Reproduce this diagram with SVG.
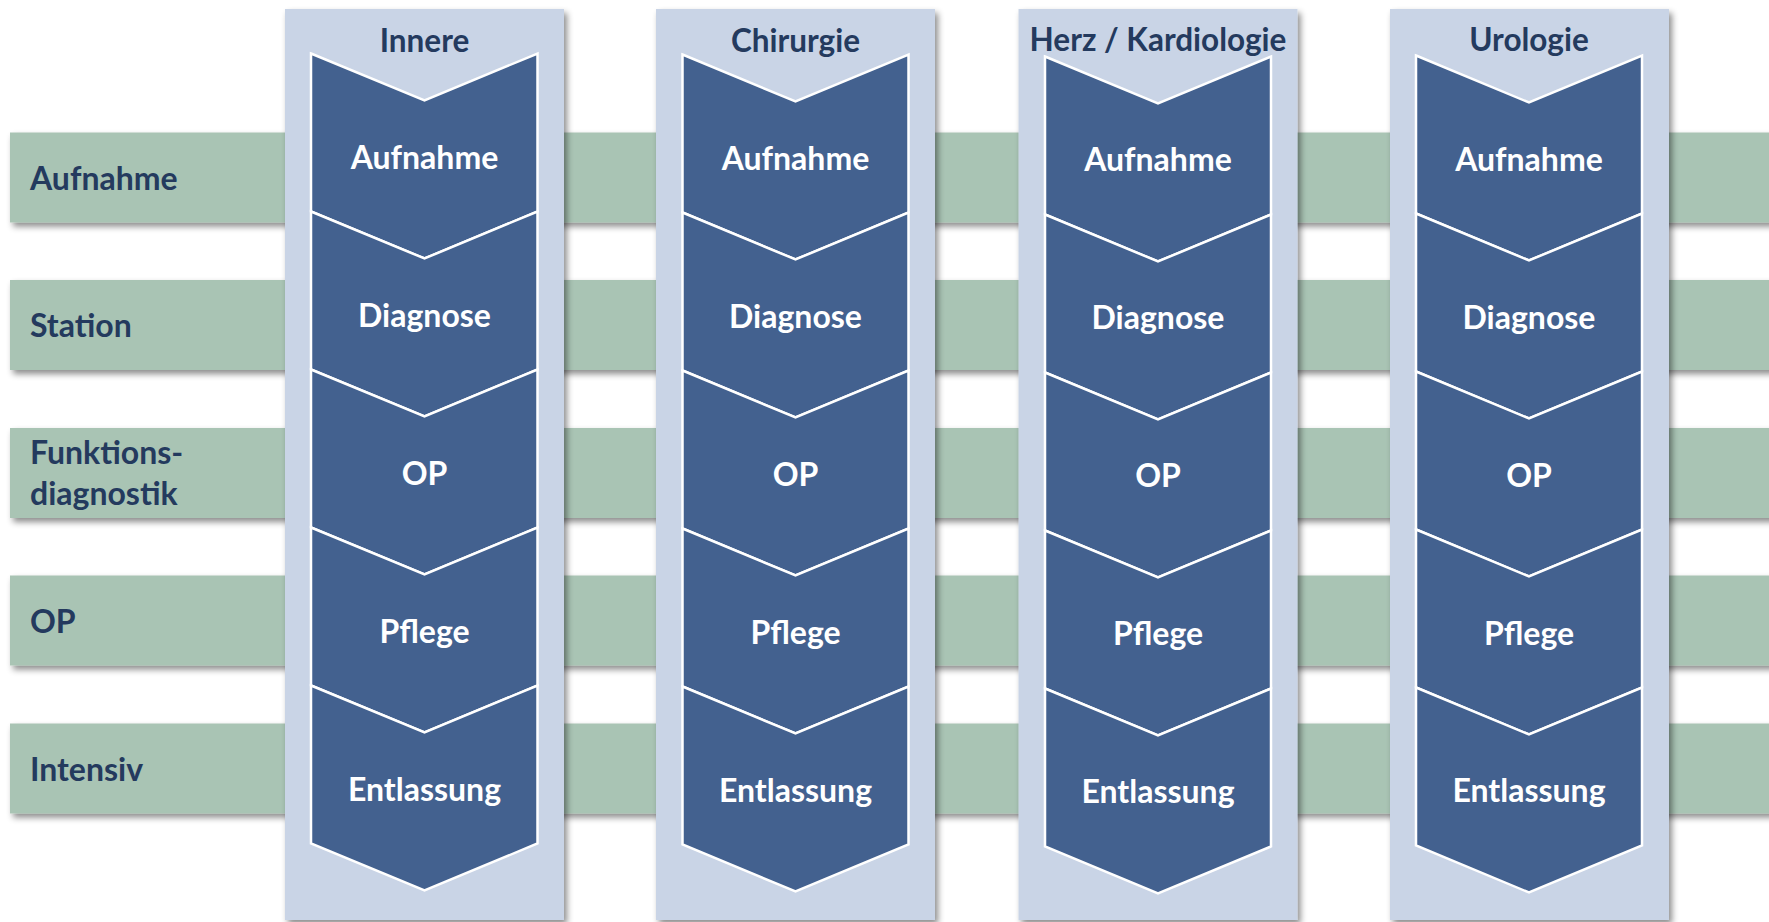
<svg xmlns="http://www.w3.org/2000/svg" width="1769" height="922" viewBox="0 0 1769 922">
  <defs>
    <filter id="sh" x="-10%" y="-10%" width="130%" height="130%">
      <feDropShadow dx="3" dy="4" stdDeviation="3" flood-color="#000" flood-opacity="0.45"/>
    </filter>
    <style>
      .band { fill: #A9C4B4; }
      .col { fill: #C9D4E6; }
      .chev { fill: #43618F; stroke: #FFFFFF; stroke-width: 2.5; stroke-linejoin: miter; }
      .lbl { font-family: Lato, "Open Sans", sans-serif; font-weight: bold; font-size: 32px; fill: #243A5E; }
      .hdr { font-family: Lato, "Open Sans", sans-serif; font-weight: bold; font-size: 31.5px; fill: #243A5E; text-anchor: middle; }
      .ct { font-family: Lato, "Open Sans", sans-serif; font-weight: bold; font-size: 32px; fill: #FFFFFF; text-anchor: middle; }
    </style>
  </defs>
  <rect width="1769" height="922" fill="#FFFFFF"/>

  <g id="bands">
    <g id="band-aufnahme">
      <rect class="band" x="10" y="132.5" width="1769" height="90" filter="url(#sh)"/>
      <text class="lbl" x="30" y="190">Aufnahme</text>
    </g>
    <g id="band-station">
      <rect class="band" x="10" y="280" width="1769" height="90" filter="url(#sh)"/>
      <text class="lbl" x="30" y="337">Station</text>
    </g>
    <g id="band-funktionsdiagnostik">
      <rect class="band" x="10" y="428" width="1769" height="90" filter="url(#sh)"/>
      <text class="lbl" x="30" y="463.5">Funktions-</text>
      <text class="lbl" x="30" y="505">diagnostik</text>
    </g>
    <g id="band-op">
      <rect class="band" x="10" y="575.5" width="1769" height="90" filter="url(#sh)"/>
      <text class="lbl" x="30" y="632.5">OP</text>
    </g>
    <g id="band-intensiv">
      <rect class="band" x="10" y="723.5" width="1769" height="90" filter="url(#sh)"/>
      <text class="lbl" x="30" y="781">Intensiv</text>
    </g>
  </g>

  <g id="col-innere">
    <rect class="col" x="285" y="9" width="279" height="911" filter="url(#sh)"/>
    <text class="hdr" x="424.5" y="51.5">Innere</text>
    <g id="innere-aufnahme"><path class="chev" d="M311,53.5 L424.5,100.5 L537.5,53.5 L537.5,211.5 L424.5,258.5 L311,211.5 Z"/><text class="ct" x="424.5" y="168.5">Aufnahme</text></g>
    <g id="innere-diagnose"><path class="chev" d="M311,211.5 L424.5,258.5 L537.5,211.5 L537.5,369.5 L424.5,416.5 L311,369.5 Z"/><text class="ct" x="424.5" y="326.5">Diagnose</text></g>
    <g id="innere-op"><path class="chev" d="M311,369.5 L424.5,416.5 L537.5,369.5 L537.5,527.5 L424.5,574.5 L311,527.5 Z"/><text class="ct" x="424.5" y="484.5">OP</text></g>
    <g id="innere-pflege"><path class="chev" d="M311,527.5 L424.5,574.5 L537.5,527.5 L537.5,685.5 L424.5,732.5 L311,685.5 Z"/><text class="ct" x="424.5" y="642.5">Pflege</text></g>
    <g id="innere-entlassung"><path class="chev" d="M311,685.5 L424.5,732.5 L537.5,685.5 L537.5,843.5 L424.5,890.5 L311,843.5 Z"/><text class="ct" x="424.5" y="800.5">Entlassung</text></g>
  </g>

  <g id="col-chirurgie">
    <rect class="col" x="656" y="9" width="279" height="911" filter="url(#sh)"/>
    <text class="hdr" x="795.5" y="51.5">Chirurgie</text>
    <g id="chirurgie-aufnahme"><path class="chev" d="M682.5,54.5 L795.5,101.5 L908.5,54.5 L908.5,212.5 L795.5,259.5 L682.5,212.5 Z"/><text class="ct" x="795.5" y="169.5">Aufnahme</text></g>
    <g id="chirurgie-diagnose"><path class="chev" d="M682.5,212.5 L795.5,259.5 L908.5,212.5 L908.5,370.5 L795.5,417.5 L682.5,370.5 Z"/><text class="ct" x="795.5" y="327.5">Diagnose</text></g>
    <g id="chirurgie-op"><path class="chev" d="M682.5,370.5 L795.5,417.5 L908.5,370.5 L908.5,528.5 L795.5,575.5 L682.5,528.5 Z"/><text class="ct" x="795.5" y="485.5">OP</text></g>
    <g id="chirurgie-pflege"><path class="chev" d="M682.5,528.5 L795.5,575.5 L908.5,528.5 L908.5,686.5 L795.5,733.5 L682.5,686.5 Z"/><text class="ct" x="795.5" y="643.5">Pflege</text></g>
    <g id="chirurgie-entlassung"><path class="chev" d="M682.5,686.5 L795.5,733.5 L908.5,686.5 L908.5,844.5 L795.5,891.5 L682.5,844.5 Z"/><text class="ct" x="795.5" y="801.5">Entlassung</text></g>
  </g>

  <g id="col-herz">
    <rect class="col" x="1018.5" y="9" width="279" height="911" filter="url(#sh)"/>
    <text class="hdr" x="1158" y="51">Herz / Kardiologie</text>
    <g id="herz-aufnahme"><path class="chev" d="M1045,56.5 L1158,103.5 L1271,56.5 L1271,214.5 L1158,261.5 L1045,214.5 Z"/><text class="ct" x="1158" y="171">Aufnahme</text></g>
    <g id="herz-diagnose"><path class="chev" d="M1045,214.5 L1158,261.5 L1271,214.5 L1271,372.5 L1158,419.5 L1045,372.5 Z"/><text class="ct" x="1158" y="329">Diagnose</text></g>
    <g id="herz-op"><path class="chev" d="M1045,372.5 L1158,419.5 L1271,372.5 L1271,530.5 L1158,577.5 L1045,530.5 Z"/><text class="ct" x="1158" y="487">OP</text></g>
    <g id="herz-pflege"><path class="chev" d="M1045,530.5 L1158,577.5 L1271,530.5 L1271,688.5 L1158,735.5 L1045,688.5 Z"/><text class="ct" x="1158" y="645">Pflege</text></g>
    <g id="herz-entlassung"><path class="chev" d="M1045,688.5 L1158,735.5 L1271,688.5 L1271,846.5 L1158,893.5 L1045,846.5 Z"/><text class="ct" x="1158" y="803">Entlassung</text></g>
  </g>

  <g id="col-urologie">
    <rect class="col" x="1390" y="9" width="279" height="911" filter="url(#sh)"/>
    <text class="hdr" x="1529" y="51">Urologie</text>
    <g id="urologie-aufnahme"><path class="chev" d="M1416,55.5 L1529,102.5 L1642,55.5 L1642,213.5 L1529,260.5 L1416,213.5 Z"/><text class="ct" x="1529" y="170.5">Aufnahme</text></g>
    <g id="urologie-diagnose"><path class="chev" d="M1416,213.5 L1529,260.5 L1642,213.5 L1642,371.5 L1529,418.5 L1416,371.5 Z"/><text class="ct" x="1529" y="328.5">Diagnose</text></g>
    <g id="urologie-op"><path class="chev" d="M1416,371.5 L1529,418.5 L1642,371.5 L1642,529.5 L1529,576.5 L1416,529.5 Z"/><text class="ct" x="1529" y="486.5">OP</text></g>
    <g id="urologie-pflege"><path class="chev" d="M1416,529.5 L1529,576.5 L1642,529.5 L1642,687.5 L1529,734.5 L1416,687.5 Z"/><text class="ct" x="1529" y="644.5">Pflege</text></g>
    <g id="urologie-entlassung"><path class="chev" d="M1416,687.5 L1529,734.5 L1642,687.5 L1642,845.5 L1529,892.5 L1416,845.5 Z"/><text class="ct" x="1529" y="802">Entlassung</text></g>
  </g>

  <g id="connectors"/>
</svg>
